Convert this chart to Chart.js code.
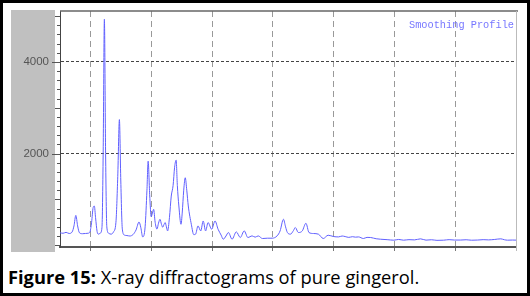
<!DOCTYPE html>
<html>
<head>
<meta charset="utf-8">
<script src="https://cdn.jsdelivr.net/npm/chart.js@4/dist/chart.umd.min.js"></script>
<style>
  html, body { margin: 0; padding: 0; background: #fff; }
  #frame { position: absolute; left: 0; top: 0; width: 530px; height: 296px; box-sizing: border-box; border: 3px solid #000; }
  #panel { position: absolute; left: 11px; top: 10px; width: 44px; height: 242px; background: #c0c0c0; }
  #wrap { position: absolute; left: 0; top: 0; width: 530px; height: 262px; }
  #caption { position: absolute; left: 8px; top: 266px; font-family: 'Open Sans', sans-serif; font-size: 18.3px; line-height: 22px; color: #000; white-space: nowrap; }
</style>
</head>
<body>
<div id="frame"></div>
<div id="panel"></div>
<div id="wrap"><canvas id="xrd"></canvas></div>
<div id="caption"><b>Figure 15:</b> X-ray diffractograms of pure gingerol.</div>
<script>
// 2-theta positions (deg) and smoothed counts
var twoTheta = [5.0, 5.5, 6.0, 6.5, 7.0, 7.3, 7.6, 7.9, 8.2, 8.7, 9.2, 9.6, 9.9, 10.2, 10.45, 10.65, 10.85, 11.1, 11.3, 11.6,
  11.9, 12.1, 12.3, 12.5, 12.7, 13.0, 13.4, 13.8, 14.2, 14.5, 14.77, 15.0, 15.25, 15.6, 16.0, 16.5, 17.0, 17.5, 18.0, 18.3,
  18.6, 19.0, 19.3, 19.5, 19.75, 20.0, 20.2, 20.4, 20.65, 20.95, 21.2, 21.45, 21.7, 21.9, 22.1, 22.3, 22.5, 22.7, 23.0, 23.3,
  23.6, 23.85, 24.1, 24.3, 24.55, 24.9, 25.1, 25.35, 25.6, 25.85, 26.1, 26.6, 27.0, 27.3, 27.7, 28.15, 28.55, 28.95, 29.35, 29.95,
  30.5, 31.0, 31.5, 31.85, 32.3, 32.7, 33.3, 34.0, 34.65, 35.3, 35.9, 36.6, 37.1, 37.6, 38.3, 39.1, 39.9, 40.7, 41.2, 41.75,
  42.1, 42.4, 42.9, 43.4, 43.7, 44.2, 44.85, 45.45, 45.95, 46.7, 47.5, 48.3, 49.1, 50.0, 50.8, 51.4, 51.9, 52.5, 53.1, 53.6,
  54.1, 54.9, 55.5, 56.1, 57.0, 57.7, 58.8, 59.9, 60.7, 61.5, 62.4, 63.3, 64.3, 65.2, 66.1, 67.0, 68.1, 69.0, 69.9, 70.9,
  71.8, 72.7, 73.7, 74.6, 75.5, 76.5, 77.5, 78.1, 78.6, 79.4, 80.1];
var intensity = [270, 260, 280, 255, 290, 420, 650, 420, 270, 250, 255, 260, 280, 500, 820, 854, 600, 300, 240, 260,
  380, 2000, 4930, 2000, 400, 260, 240, 290, 500, 1500, 2740, 1400, 350, 220, 210, 200, 230, 330, 506, 380,
  180, 400, 1200, 1833, 1100, 620, 700, 783, 500, 350, 480, 565, 450, 391, 450, 493, 400, 311, 600, 1072,
  1300, 1700, 1855, 1300, 855, 456, 700, 1200, 1471, 1200, 855, 456, 230, 240, 420, 311, 528, 311, 493, 348,
  528, 348, 220, 130, 200, 276, 130, 290, 167, 311, 167, 202, 175, 202, 145, 152, 152, 202, 311, 565,
  400, 276, 240, 320, 385, 276, 311, 478, 276, 254, 240, 145, 217, 188, 180, 200, 188, 170, 185, 175,
  180, 145, 170, 167, 140, 130, 120, 109, 125, 109, 120, 115, 138, 110, 118, 105, 109, 120, 112, 112,
  118, 108, 112, 120, 115, 125, 138, 118, 109, 112, 110];
var yLabels = [2000, 4000];
var xGrid = [10, 20, 30, 40, 50, 60, 70];
var legendText = 'Smoothing Profile';

var points = twoTheta.map(function (t, i) { return { x: t, y: intensity[i] }; });

// frame, y ticks + labels and the profile label
var decor = {
  id: 'decor',
  afterDraw: function (chart) {
    var c = chart.ctx, a = chart.chartArea, y = chart.scales.y;
    c.save();
    c.strokeStyle = '#666';
    c.lineWidth = 1.5;
    c.beginPath(); c.moveTo(a.left, a.top); c.lineTo(a.right + 2, a.top); c.stroke();
    c.strokeStyle = '#bbb';
    c.lineWidth = 1;
    c.beginPath(); c.moveTo(a.right + 0.5, a.top); c.lineTo(a.right + 0.5, a.bottom + 4); c.stroke();
    c.strokeStyle = '#555';
    for (var v = 0; v <= 5000; v += 200) {
      var py = Math.round(y.getPixelForValue(v)) + 0.5;
      var len = v % 2000 === 0 && v > 0 ? 8 : (v % 1000 === 0 ? 5 : 3);
      c.beginPath(); c.moveTo(a.left - len, py); c.lineTo(a.left, py); c.stroke();
    }
    c.fillStyle = '#555';
    c.font = '11.5px "Liberation Sans", sans-serif';
    c.textAlign = 'right';
    c.textBaseline = 'middle';
    yLabels.forEach(function (v) {
      c.fillText(String(v), a.left - 11, y.getPixelForValue(v));
    });
    c.fillStyle = '#7777ff';
    c.font = '10.3px "Liberation Mono", monospace';
    c.textBaseline = 'alphabetic';
    c.fillText(legendText, a.right - 2, a.top + 17);
    c.restore();
  }
};

new Chart(document.getElementById('xrd'), {
  type: 'line',
  data: {
    datasets: [{
      label: legendText,
      data: points,
      borderColor: '#6060ff',
      borderWidth: 1,
      pointRadius: 0,
      cubicInterpolationMode: 'monotone',
      fill: false
    }]
  },
  options: {
    responsive: true,
    maintainAspectRatio: false,
    animation: false,
    events: [],
    layout: { padding: { top: 11, right: 14, bottom: 0, left: 0 } },
    plugins: { legend: { display: false }, tooltip: { enabled: false } },
    scales: {
      x: {
        type: 'linear',
        min: 5,
        max: 80,
        afterBuildTicks: function (s) { s.ticks = xGrid.map(function (v) { return { value: v }; }); },
        afterFit: function (s) { s.height = 15; },
        ticks: { display: false },
        grid: { color: '#999', lineWidth: 1, tickLength: 4, tickColor: '#777', tickBorderDash: [] },
        border: { display: true, color: '#555', width: 2, dash: [6, 4] }
      },
      y: {
        min: -40,
        max: 5110,
        afterBuildTicks: function (s) { s.ticks = yLabels.map(function (v) { return { value: v }; }); },
        afterFit: function (s) { s.width = 60; },
        ticks: { display: false },
        grid: { color: '#444', lineWidth: 1, drawTicks: false },
        border: { display: true, color: '#444', width: 1, dash: [3, 2] }
      }
    }
  },
  plugins: [decor]
});
</script>
</body>
</html>
